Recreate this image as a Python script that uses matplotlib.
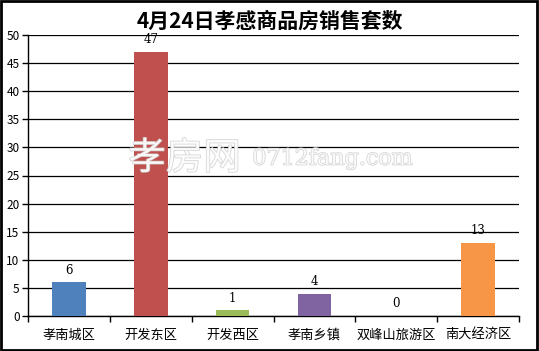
import matplotlib.pyplot as plt
import matplotlib.patheffects as pe
from matplotlib.patches import Rectangle

plt.rcParams['font.family'] = ['Noto Sans CJK SC', 'DejaVu Sans']

districts = ['孝南城区', '开发东区', '开发西区', '孝南乡镇', '双峰山旅游区', '南大经济区']
sales = [6, 47, 1, 4, 0, 13]
bar_colors = ['#4f81bd', '#c0504d', '#9bbb59', '#8064a2', '#4bacc6', '#f79646']
y_ticks = list(range(0, 51, 5))

fig = plt.figure(figsize=(5.39, 3.51), dpi=100)
ax = fig.add_axes([28 / 539, 1 - 316 / 351, (519 - 28) / 539, (316 - 35) / 351])

x = list(range(len(districts)))
ax.bar(x, sales, width=0.41, color=bar_colors, zorder=3)
for xi, v in zip(x, sales):
    ax.text(xi, v + 1.0, str(v), ha='center', va='bottom', fontsize=8.5,
            family=['DejaVu Serif'], zorder=4)

ax.set_xlim(-0.5, len(districts) - 0.5)
ax.set_ylim(0, 50)
ax.set_yticks(y_ticks)
ax.tick_params(axis='y', labelsize=8.5, length=4, width=1, pad=2)
ax.set_xticks([i + 0.5 for i in range(-1, len(districts))], minor=False)
ax.set_xticklabels([])
ax.set_xticks(x, minor=True)
ax.set_xticklabels(districts, minor=True, fontsize=9.5)
ax.tick_params(axis='x', which='major', length=4, width=1, direction='out')
ax.tick_params(axis='x', which='minor', length=0, pad=9)
ax.yaxis.grid(True, color='black', linewidth=0.9, zorder=0)
for s in ['top', 'right']:
    ax.spines[s].set_visible(False)
ax.spines['left'].set_linewidth(1)
ax.spines['bottom'].set_linewidth(1)

fig.text(0.5, 0.94, '4月24日孝感商品房销售套数', ha='center', va='center',
         fontsize=15, fontweight='bold')

# watermark
wm = [pe.withStroke(linewidth=1.0, foreground='#c8c8c8')]
fig.text(0.238, 0.548, '孝房网', fontsize=27, color='white',
         ha='left', va='center', path_effects=wm, alpha=0.8, zorder=5)
fig.text(0.468, 0.548, '0712fang.com', fontsize=16, color='white',
         family=['DejaVu Serif'], ha='left', va='center', path_effects=wm,
         alpha=0.8, zorder=5)

fig.patches.append(Rectangle((0.002, 0.003), 0.994, 0.993, transform=fig.transFigure,
                             fill=False, edgecolor='black', linewidth=2))

fig.savefig('out.png', dpi=100)
